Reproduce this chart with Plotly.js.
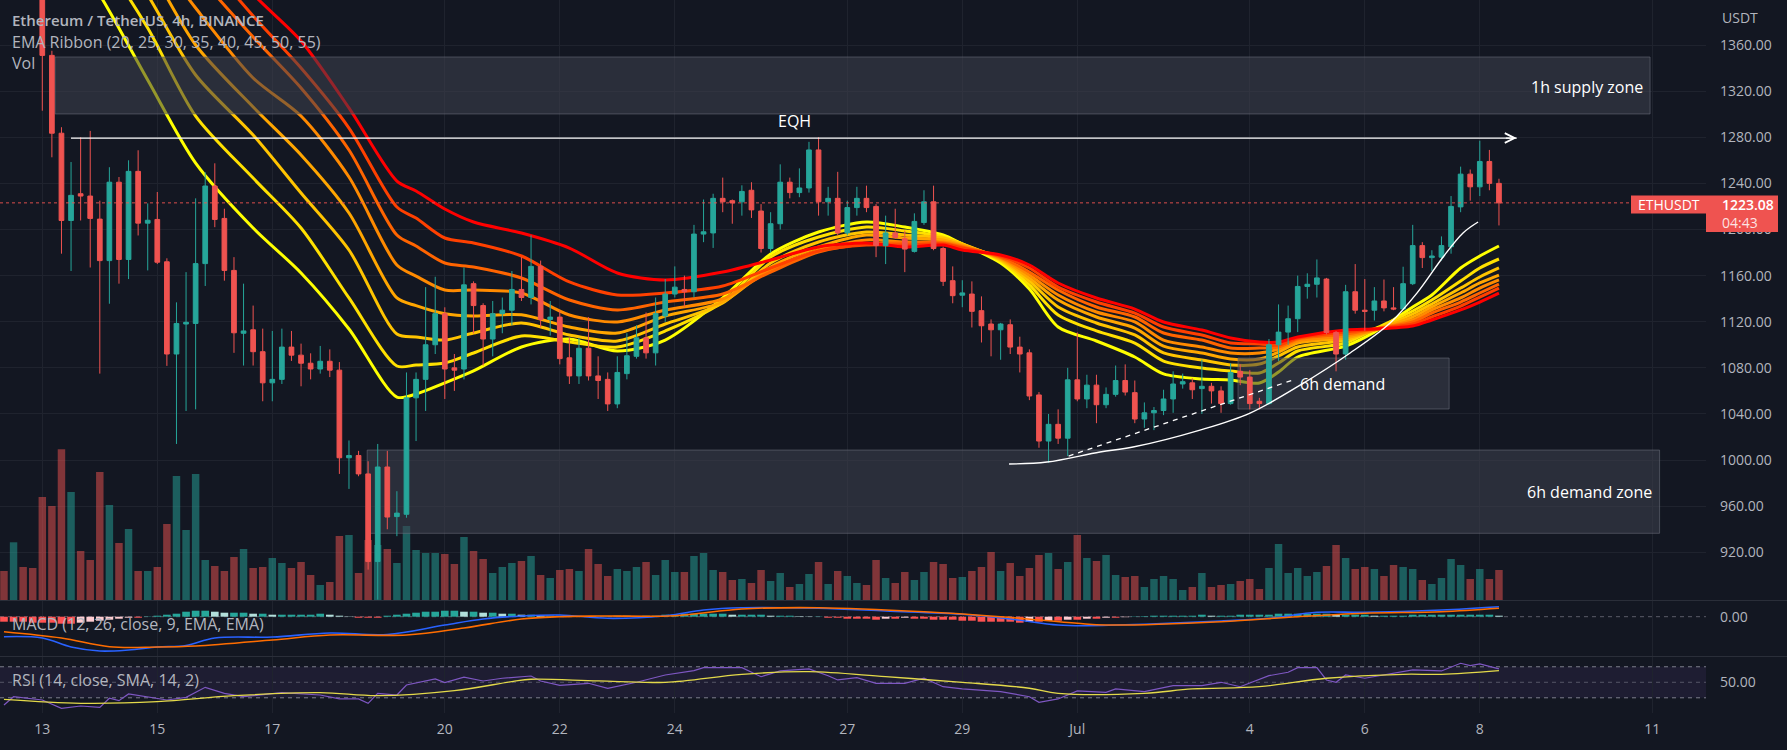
<!DOCTYPE html>
<html>
<head>
<meta charset="utf-8">
<title>ETHUSDT 4h</title>
<script src="https://cdn.plot.ly/plotly-3.0.1.min.js"></script>
<style>
html,body{margin:0;padding:0;background:#131722;overflow:hidden;}
#chart{width:1787px;height:750px;}
</style>
</head>
<body>
<div id="chart"></div>
<script>
// ================= DATA =================
// bar index 0 = 2022-06-13 00:00, 4h bars; first candle is index -4
const firstBarIndex = -4;

const opens = [1530,1512,1520,1478,
 1432,1351,1283.5,1207.8,1231,1229,1209,1173,1241,1174,
 1250.4,1205.5,1208.7,1172,1092,1118,1118.5,1170.4,1237.7,1209.6,
 1164.5,1110,1113,1094,1067,1070,1098,1091,1084,1079,
 1085.7,1078,1002,1004,988,912,994,951,953,1054,
 1070,1100,1127,1080,1079,1153,1134,1105,1127,1130,
 1148,1141,1168,1122,1124,1088.7,1073,1097,1073,1070,
 1048.7,1075,1090,1106,1093,1125,1144,1148,1146,1196,
 1197,1227,1225,1224,1234,1216,1183.5,1205,1241,1232,
 1236,1269,1224,1227,1197,1219,1227,1220,1186,1197,
 1192,1181,1206,1224,1183.5,1155.6,1143,1144,1129.6,1118,
 1113,1117.4,1098,1093,1056.5,1016.5,1031,1019,1069.6,1053,
 1065,1048,1057,1069,1058.5,1035.6,1041,1043,1053,1066,
 1067,1062,1064,1060,1049,1077,1072,1051,1049,1100,
 1111,1122.6,1150.6,1152.5,1157,1110.7,1092,1146,1130,1130,
 1138,1132,1131,1153,1186,1175.6,1176,1185,1219.6,1248,
 1237,1259,1240];
const highs = [1545,1528,1525,1490,
 1440,1355,1288.7,1258.5,1280,1285.5,1225,1254,1245.5,1260,
 1268.7,1222.6,1232.5,1175,1136.8,1163,1227,1249.6,1257.4,1218,
 1176,1153,1134,1114,1112,1114,1112,1101,1092.6,1099,
 1096,1085,1017,1008,999,1014,1008,973,1076,1076,
 1150,1159,1132.5,1092,1167,1155,1136,1138,1141,1164,
 1176,1195,1173,1138,1130,1106,1106,1124,1090,1076,
 1090,1110,1117,1128,1141,1157,1168,1160,1204,1226,
 1231,1245,1226,1238.3,1241,1222,1215,1256.5,1245,1253,
 1276,1280,1237,1250,1225,1237,1238,1222,1212,1218,
 1199,1214,1234,1238,1185,1168,1156,1155,1142,1122,
 1119,1122,1107,1096,1059,1040,1044,1080,1110.7,1074,
 1074,1063,1082,1083,1069,1050,1046,1061,1077,1075,
 1071,1087,1067,1064,1084,1083,1078,1054,1105,1135,
 1134,1160,1162,1174,1158,1112,1152,1170,1157,1150,
 1156.6,1150,1167.7,1204,1189,1182,1194,1229,1254.5,1252,
 1277,1269,1244];
const lows = [1505,1490,1470,1420,
 1303,1262.6,1179,1164,1207.8,1167,1075,1135.6,1153,1157,
 1194.8,1164.5,1170,1081.7,1014,1042.6,1044,1151,1202,1155.6,
 1093,1082,1082,1051,1051,1066,1086,1064,1070,1075,
 1072,988,975,986,905,879,940,934,950,1016.5,
 1042.6,1092,1053,1060,1070,1110,1082,1090,1110,1117,
 1138,1135,1115,1108,1083,1066,1066,1069,1053,1042.6,
 1045,1070,1088,1088,1082,1120,1141,1133,1141,1189,
 1184,1215,1205,1212,1210,1180,1180,1200,1227,1228,
 1232,1212,1212,1195,1195,1212,1215,1176,1170,1192,
 1163,1180,1204,1182,1151,1136,1132.6,1115,1102,1090,
 1087,1092,1076,1052,1010.7,997.7,1014,1003.5,1051,1045,
 1032,1045,1055,1056,1032,1028,1026,1039,1041,1062,
 1053,1040,1049,1041,1048,1065,1044,1044,1048,1086,
 1100,1111,1140,1141,1109,1077,1087,1127,1112,1121,
 1129,1130,1132,1151.8,1166.6,1164,1173,1179,1215,1225,
 1229,1234,1203.5];
const closes = [1512,1520,1478,1432,
 1351,1283.5,1207.8,1229.6,1229,1209.6,1173,1241,1174,1250.4,
 1205.5,1208,1171.6,1092,1118.5,1119.5,1170.4,1237.7,1208.7,1164.5,
 1110.4,1112,1094,1067,1070,1098,1091,1084,1079,1085.7,
 1078,1002,1004,988,912,994,950.6,954,1054,1070,
 1100,1127,1079,1078,1152,1134,1105,1127,1130,1148,
 1141,1168,1122,1124,1088,1073,1097,1073,1069,1048.7,
 1076,1090.5,1106,1093,1127,1144,1150,1146,1196,1198,
 1227,1224,1223,1233,1217,1183.5,1205,1241,1232,1236,
 1269,1224,1227,1197,1219,1227,1219,1186,1197,1193,
 1183,1207,1224,1183.5,1155,1142.6,1145,1129,1116.5,1113,
 1118,1098,1092,1055.6,1016.5,1031,1019,1069.6,1053,1065,
 1048,1057,1069,1059,1035.6,1041,1043,1053,1066,1068,
 1061,1064,1060,1049,1076,1072,1049,1049,1100,1111,
 1122.6,1150.6,1152.5,1158,1110.7,1092,1146,1130,1129,1138,
 1132,1131,1153,1186,1175.6,1177,1186,1220,1248,1237,
 1259,1240,1223.08];
const volumes = [29,57.7,33,32,
 103,94,150.7,108,49,40,128,95,57,71,
 29,29,33,76,124,70,126,40,34,29,
 43,51,32,33,42,37,32,38,25,15,
 18,64,65,27,60,55,51,37,74,50,
 47,47,46,36,63,49,41,27,33,37,
 39,44,25,22,30,31,29,51,36,24,
 31,29,33,38,25,40,28,28,44,47,
 30,28,20,21,17,30,19,27,13,16,
 26,38,16,29,24,17,15,40,22,17,
 28,20,28,38,36,22,23,29,33,48,
 29,37,24,32,45,47,31,38,65,42,
 39,45,25,23,24,13,21,24,21,10,
 13,27,13,15,16,19,21,11,32,56,
 27,32,24,28,34,55,42,31,33,31,
 24,35,33,31,20,16,22,41,35,21,
 31,21,30];

// EMA ribbon, read at these bar indexes
const emaIdx = [-4,0,6,11,16,22,27,32,37,39,42,45,50,55,60,65,71,76,81,86,90,94,96,100,103,106,110,114,117,121,124,127,129,131,136,139,143,145,148,150,152];
const ema20 = [1520.4,1477.1,1403.4,1329.6,1257.6,1201.3,1162.3,1113.7,1054.7,1057.3,1066.9,1077.3,1098.1,1105.0,1094.6,1104.1,1140.6,1178.7,1197.8,1206.5,1202.1,1195.2,1187.4,1170.9,1148.4,1115.4,1103.3,1089.4,1074.7,1070.3,1069.5,1066.9,1076.4,1089.4,1098.9,1111.0,1132.8,1143.2,1166.6,1177.0,1185.7];
const ema25 = [1537.8,1503.1,1438.1,1374.7,1298.4,1244.6,1201.3,1140.6,1081.6,1082.5,1084.2,1092.9,1107.6,1102.4,1098.1,1112.0,1137.1,1176.1,1193.5,1202.1,1198.7,1193.5,1187.4,1172.7,1151.9,1125.8,1112.0,1101.5,1085.9,1079.9,1077.3,1075.5,1084.2,1094.6,1101.5,1113.7,1129.3,1138.8,1155.3,1166.6,1174.4];
const ema30 = [1563.8,1529.1,1468.4,1403.4,1334.0,1281.9,1231.6,1182.2,1109.4,1106.8,1104.1,1110.2,1118.9,1108.5,1103.3,1118.0,1136.2,1170.9,1189.1,1197.8,1195.2,1192.6,1187.4,1173.5,1155.3,1132.8,1118.9,1108.5,1092.9,1086.8,1082.5,1083.3,1090.3,1098.1,1104.1,1112.8,1126.7,1135.4,1149.2,1158.8,1166.6];
const ema35 = [1581.2,1555.1,1494.4,1430.3,1360.0,1306.2,1264.6,1214.3,1140.6,1134.0,1127.0,1125.0,1126.0,1115.4,1110.2,1124.9,1137.1,1167.5,1184.8,1195.2,1192.6,1190.9,1186.5,1174.4,1157.9,1138.8,1124.1,1114.5,1098.9,1092.9,1087.7,1087.7,1093.7,1101.5,1105.9,1112.8,1124.1,1132.8,1144.9,1153.6,1160.5];
const ema40 = [1598.5,1572.5,1511.8,1448.5,1392.1,1331.4,1298.4,1245.5,1169.2,1159.6,1147.5,1147.5,1144.9,1125.8,1119.8,1130.2,1139.7,1164.9,1182.2,1190.9,1189.1,1189.1,1185.7,1175.3,1160.5,1143.2,1128.4,1119.8,1104.1,1098.1,1092.9,1092.9,1096.3,1103.3,1107.6,1112.8,1121.5,1130.2,1140.6,1149.2,1156.2];
const ema45 = [1615.9,1589.8,1537.8,1478.8,1423.3,1366.9,1322.7,1268.9,1195.2,1185.7,1170.9,1167.5,1157.9,1138.8,1130.2,1137.1,1144.0,1163.1,1180.5,1187.4,1188.3,1188.3,1184.8,1176.1,1163.1,1147.5,1132.8,1124.1,1110.2,1104.1,1097.2,1097.2,1098.1,1105.0,1109.4,1113.7,1119.8,1127.5,1137.1,1144.9,1152.7];
const ema50 = [1633.2,1607.2,1555.1,1496.2,1444.1,1385.2,1340.0,1288.0,1219.5,1209.9,1192.6,1188.3,1177.0,1154.5,1143.2,1144.9,1151.0,1166.6,1181.3,1186.5,1186.5,1187.4,1183.9,1177.0,1166.6,1150.1,1137.1,1127.5,1115.4,1108.5,1101.5,1100.7,1099.8,1105.9,1111.1,1113.7,1118.0,1124.1,1133.6,1141.4,1149.2];
const ema55 = [1650.5,1624.5,1572.5,1513.5,1464.1,1404.2,1363.5,1305.4,1242.0,1233.4,1217.8,1206.5,1196.9,1183.9,1162.3,1156.2,1163.1,1173.5,1184.8,1188.3,1184.8,1186.5,1182.2,1177.9,1169.2,1153.6,1140.6,1131.0,1119.8,1112.8,1105.9,1102.4,1102.4,1106.8,1112.8,1113.7,1116.3,1121.5,1130.2,1137.1,1144.8];

// MACD (12, 26, close, 9)
const macdIdx = [-4,0,3,6,9,12,15,18,24,30,36,42,46,50,54,59,65,69,73,81,88,96,101,106,109,115,123,128,133,138,146,152];
const macdLine = [-20,-21.3,-30.3,-34.3,-33.3,-30.3,-28.8,-21.3,-20.3,-16.3,-17.8,-8.3,-2.3,0.7,1.7,-1.6,1,6.7,9,8.4,5.7,2.4,-2.3,-8.3,-9,-7.6,-4.3,-1.6,4.4,4.4,6.7,10];
const signalIdx = [-4,2,7,12,16,24,30,38,44,50,54,58,66,73,81,92,100,108,111,123,131,138,146,152];
const signalLine = [-15,-21.3,-30,-30.3,-29.3,-23.3,-18.3,-18.3,-11.3,-2.3,0,0.7,1,7.7,9,5,0,-6.6,-8.3,-5,0,3.4,5,8.4];
const macdHist = [-5,-5,-5,-6,
 -6,-6,-7,-7,-6,-5,-4,-3,-2,-1,
 -1,0.3,1,2,3,5,6,6,5,4,
 4,4,3,3,2,2,2,2,2,3,
 2,1,0.3,-1,-1,-1,1,2,3,4,
 5,5,6,6,5,5,4,4,3,3,
 2,2,1,1,1,1,0.5,0.3,0.3,0.5,
 1,1,0.5,1,1,2,2,3,3,3,
 3,3,2,2,2,2,1,1,1,0.5,
 0.3,0.3,-1,-1,-2,-2,-2,-3,-2,-2,
 -1,-2,-2,-3,-3,-3,-4,-4,-5,-5,
 -5,-5,-6,-5,-5,-4,-4,-3,-3,-2,
 -2,-1,-1,-0.5,0.3,0.5,1,1,1,1,
 1,2,1,1,1,2,2,2,2,3,
 3,3,3,3,3,2,2,2,2,1,
 1,1,1,2,2,2,2,2,2,2,
 2,2,1];

// RSI (14) and its SMA (14)
const rsiIdx = [-4,-3,0,2,4,6,7,8,9,11,13,15,17,19,21,25,29,31,33,34,35,37,38,41,42,44,46,48,51,52,54,57,59,62,65,68,69,73,75,77,80,82,83,85,87,90,92,94,96,100,103,104,106,108,111,112,115,118,121,123,125,128,130,131,133,134,135,136,138,143,146,148,149,150,152];
const rsiVals = [20.7,31.4,27.2,16.5,19.4,17.7,29.4,26.3,34.9,31.4,27.2,30.6,43.5,35.8,31.4,36.6,33.6,28.5,28.5,22.9,35.8,33.6,46.5,54.3,49.5,56.5,51.7,55.2,58.1,51.7,46,48.7,42.3,50,59.4,65,68.8,68.8,57.2,64.6,67.2,58.5,53,55.9,48.7,48.7,55.2,44.3,41.4,37.9,31.4,24.2,28.5,38.8,37.1,41.4,37.9,45.6,45.6,50,44.3,58.5,62.9,68.8,68.8,53,50,59.4,55.2,65.9,64.6,74.5,71.4,73.6,67.2];
const rsiMaIdx = [-4,4,12,20,29,35,43,49,51,58,65,73,80,88,96,103,106,115,120,127,134,142,146,152];
const rsiMaVals = [28,22.9,25,32.7,36.6,32.7,39.2,50.8,53.9,51.7,50,60.3,63.7,57.2,50,42.3,35.8,35.8,41.4,44.3,55.2,60.3,60.3,65];

// Drawings (bar index, price)
const eqhIdx = [2.99, 153.85];
const eqhPrice = 1279.3;
const curveIdx = [100.88,104.84,110.37,113.82,120.8,126.03,131.25,136.47,140.64,143.46,146.17,148.25,149.82];
const curvePrice = [996.6,998.3,1007,1011.3,1026,1040.8,1065,1092.9,1118.9,1145,1176.1,1197,1206.5];
const dashIdx = [107.1, 130.5];
const dashPrice = [1003.5, 1069.5];
const supplyZone = {idx:[1.33,167.77], price:[1300.2,1349.6], label:'1h supply zone', labelIdx:167.2, labelPrice:1324};
const demandZoneBig = {idx:[33.9,168.76], price:[936.5,1008.7], label:'6h demand zone', labelIdx:168.2, labelPrice:972.3};
const demandZoneSmall = {idx:[124.77,146.8], price:[1044.3,1088.5], label:'6h demand', labelIdx:135.7, labelPrice:1066.4};
const eqhLabel = {text:'EQH', idx:78.44, price:1294.1};

const lastPrice = 1223.08;
const countdown = '04:43';

// Axis ticks
const dateTickDates = ['2022-06-13','2022-06-15','2022-06-17','2022-06-20','2022-06-22','2022-06-24','2022-06-27','2022-06-29','2022-07-01','2022-07-04','2022-07-06','2022-07-08','2022-07-11'];
const dateTickText = ['13','15','17','20','22','24','27','29','Jul','4','6','8','11'];
const priceTicks = [920,960,1000,1040,1080,1120,1160,1200,1240,1280,1320,1360];

// ================= HELPERS =================
const ANCHOR = Date.UTC(2022, 5, 13, 0, 0);
const BAR = 4 * 3600 * 1000;
const DAY = 24 * 3600 * 1000;
const ds = ms => new Date(ms).toISOString().replace('T', ' ').slice(0, 19);
const tAt = n => ds(ANCHOR + n * BAR);

const candleX = opens.map((_, i) => tAt(firstBarIndex + i));
const UP = '#26a69a', DOWN = '#ef5350';
const GRID = '#1f232e';
const TXT = '#b2b5be';

// plot area geometry (px): width 1706, height 713
const PW = 1706, PH = 713;
const py = px => (PH - px) / PH;  // pixel y -> paper y
const pxX = px => px / PW;        // pixel x -> paper x

const xLeft = ds(ANCHOR - 0.7357 * DAY);
const xRight = ds(ANCHOR + 28.934 * DAY);
const priceMax = 1399.03, priceMin = 878.65;

// ================= TRACES =================
const traces = [];

// Volume (base layer)
traces.push({
  type: 'bar', x: candleX, y: volumes, xaxis: 'x', yaxis: 'y',
  width: BAR * 0.78,
  marker: {color: closes.map((c, i) => c >= opens[i] ? 'rgba(38,166,154,0.5)' : 'rgba(239,83,80,0.5)'), line: {width: 0}},
  hoverinfo: 'skip'
});

// EMA ribbon
const ribbon = [
  [ema20, '#ffff00'], [ema25, '#ffe000'], [ema30, '#ffc400'], [ema35, '#ffa600'],
  [ema40, '#ff8a00'], [ema45, '#ff6400'], [ema50, '#ff4000'], [ema55, '#ff0000']
];
ribbon.forEach(([vals, col]) => {
  traces.push({
    type: 'scatter', mode: 'lines', x: emaIdx.map(tAt), y: vals, xaxis: 'x', yaxis: 'y2',
    line: {color: col, width: 3, shape: 'spline', smoothing: 0.8}, hoverinfo: 'skip'
  });
});

// Zones (above ribbon, below candles)
[supplyZone, demandZoneBig, demandZoneSmall].forEach(z => {
  const [i0, i1] = z.idx, [p0, p1] = z.price;
  traces.push({
    type: 'scatter', mode: 'lines', xaxis: 'x', yaxis: 'y2',
    x: [tAt(i0), tAt(i1), tAt(i1), tAt(i0), tAt(i0)],
    y: [p0, p0, p1, p1, p0],
    fill: 'toself', fillcolor: 'rgba(62,65,78,0.55)',
    line: {color: 'rgba(110,113,125,0.55)', width: 1}, hoverinfo: 'skip'
  });
});

// Candles
traces.push({
  type: 'candlestick', x: candleX, open: opens, high: highs, low: lows, close: closes,
  xaxis: 'x', yaxis: 'y3',
  increasing: {line: {color: UP, width: 1}, fillcolor: UP},
  decreasing: {line: {color: DOWN, width: 1}, fillcolor: DOWN},
  whiskerwidth: 0, hoverinfo: 'skip'
});

// Drawings
traces.push({
  type: 'scatter', mode: 'lines', xaxis: 'x', yaxis: 'y3',
  x: eqhIdx.map(tAt), y: [eqhPrice, eqhPrice],
  line: {color: '#ffffff', width: 1.2}, hoverinfo: 'skip'
});
traces.push({
  type: 'scatter', mode: 'lines', xaxis: 'x', yaxis: 'y3',
  x: curveIdx.map(tAt), y: curvePrice,
  line: {color: '#ffffff', width: 1.4, shape: 'spline', smoothing: 1}, hoverinfo: 'skip'
});
traces.push({
  type: 'scatter', mode: 'lines', xaxis: 'x', yaxis: 'y3',
  x: dashIdx.map(tAt), y: dashPrice,
  line: {color: '#ffffff', width: 1.3, dash: '5px,5px'}, hoverinfo: 'skip'
});

// MACD
const histColors = macdHist.map((v, i) => {
  const prev = i > 0 ? macdHist[i - 1] : v;
  if (v >= 0) return v >= prev ? '#26a69a' : '#b2dfdb';
  return v <= prev ? '#ff5252' : '#ffcdd2';
});
traces.push({
  type: 'bar', x: candleX, y: macdHist, xaxis: 'x', yaxis: 'y4',
  width: BAR * 0.8, marker: {color: histColors, line: {width: 0}}, hoverinfo: 'skip'
});
traces.push({
  type: 'scatter', mode: 'lines', x: macdIdx.map(tAt), y: macdLine, xaxis: 'x', yaxis: 'y4',
  line: {color: '#2962ff', width: 1.6, shape: 'spline'}, hoverinfo: 'skip'
});
traces.push({
  type: 'scatter', mode: 'lines', x: signalIdx.map(tAt), y: signalLine, xaxis: 'x', yaxis: 'y4',
  line: {color: '#ff6d00', width: 1.6, shape: 'spline'}, hoverinfo: 'skip'
});

// RSI
traces.push({
  type: 'scatter', mode: 'lines', x: rsiIdx.map(tAt), y: rsiVals, xaxis: 'x', yaxis: 'y5',
  line: {color: '#7e57c2', width: 1.2}, hoverinfo: 'skip'
});
traces.push({
  type: 'scatter', mode: 'lines', x: rsiMaIdx.map(tAt), y: rsiMaVals, xaxis: 'x', yaxis: 'y5',
  line: {color: '#e3d94a', width: 1.3, shape: 'spline'}, hoverinfo: 'skip'
});

// ================= LAYOUT =================
const priceDomainBottom = (PH - 600) / PH;
const macdDomain = [(PH - 656) / PH, (PH - 601) / PH];
const rsiDomain = [0, (PH - 657) / PH];

const shapes = [
  // pane separators
  {type: 'line', xref: 'paper', yref: 'paper', x0: 0, x1: 1787 / PW, y0: py(600.5), y1: py(600.5), line: {color: '#2a2e39', width: 1}},
  {type: 'line', xref: 'paper', yref: 'paper', x0: 0, x1: 1787 / PW, y0: py(656.5), y1: py(656.5), line: {color: '#2a2e39', width: 1}},
  // MACD zero line
  {type: 'line', xref: 'paper', yref: 'y4', x0: 0, x1: 1, y0: 0, y1: 0, line: {color: 'rgba(120,123,134,0.7)', width: 1, dash: '4px,4px'}, layer: 'below'},
  // RSI band and levels
  {type: 'rect', xref: 'paper', yref: 'y5', x0: 0, x1: 1, y0: 30, y1: 70, fillcolor: 'rgba(126,87,194,0.1)', line: {width: 0}, layer: 'below'},
  {type: 'line', xref: 'paper', yref: 'y5', x0: 0, x1: 1, y0: 70, y1: 70, line: {color: 'rgba(150,153,164,0.8)', width: 1, dash: '4px,4px'}, layer: 'below'},
  {type: 'line', xref: 'paper', yref: 'y5', x0: 0, x1: 1, y0: 50, y1: 50, line: {color: 'rgba(150,153,164,0.45)', width: 1, dash: '4px,4px'}, layer: 'below'},
  {type: 'line', xref: 'paper', yref: 'y5', x0: 0, x1: 1, y0: 30, y1: 30, line: {color: 'rgba(150,153,164,0.8)', width: 1, dash: '4px,4px'}, layer: 'below'},
  // last price line
  {type: 'line', xref: 'paper', yref: 'y2', x0: 0, x1: 1, y0: lastPrice, y1: lastPrice, line: {color: 'rgba(239,83,80,0.9)', width: 1, dash: 'dot'}, layer: 'above'},
  // price scale labels
  {type: 'rect', xref: 'paper', yref: 'paper', x0: pxX(1631), x1: pxX(1706), y0: py(213.5), y1: py(195.5), fillcolor: '#ef5350', line: {width: 0}, layer: 'above'},
  {type: 'rect', xref: 'paper', yref: 'paper', x0: pxX(1706), x1: pxX(1778), y0: py(232), y1: py(195.5), fillcolor: '#ef5350', line: {width: 0}, layer: 'above'}
];

const legendFont = {family: 'Open Sans, sans-serif', size: 16, color: TXT};
const drawFont = {family: 'Open Sans, sans-serif', size: 16, color: '#ffffff'};
const annotations = [
  {xref: 'paper', yref: 'paper', x: pxX(10), y: py(20), xanchor: 'left', yanchor: 'middle', showarrow: false, text: 'Ethereum / TetherUS, 4h, BINANCE', font: {family: 'Open Sans, sans-serif', size: 15, color: TXT, weight: 600}},
  {xref: 'paper', yref: 'paper', x: pxX(10), y: py(42), xanchor: 'left', yanchor: 'middle', showarrow: false, text: 'EMA Ribbon (20, 25, 30, 35, 40, 45, 50, 55)', font: legendFont},
  {xref: 'paper', yref: 'paper', x: pxX(10), y: py(63), xanchor: 'left', yanchor: 'middle', showarrow: false, text: 'Vol', font: legendFont},
  {xref: 'paper', yref: 'paper', x: pxX(10), y: py(624), xanchor: 'left', yanchor: 'middle', showarrow: false, text: 'MACD (12, 26, close, 9, EMA, EMA)', font: legendFont},
  {xref: 'paper', yref: 'paper', x: pxX(10), y: py(680), xanchor: 'left', yanchor: 'middle', showarrow: false, text: 'RSI (14, close, SMA, 14, 2)', font: legendFont},
  {xref: 'paper', yref: 'paper', x: pxX(1720), y: py(17), xanchor: 'left', yanchor: 'middle', showarrow: false, text: 'USDT', font: {family: 'Open Sans, sans-serif', size: 14, color: TXT}},
  {xref: 'paper', yref: 'paper', x: pxX(1668.5), y: py(204.5), xanchor: 'center', yanchor: 'middle', showarrow: false, text: 'ETHUSDT', font: {family: 'Open Sans, sans-serif', size: 14, color: '#ffffff'}},
  {xref: 'paper', yref: 'paper', x: pxX(1720), y: py(204.5), xanchor: 'left', yanchor: 'middle', showarrow: false, text: lastPrice.toFixed(2), font: {family: 'Open Sans, sans-serif', size: 14, color: '#ffffff', weight: 600}},
  {xref: 'paper', yref: 'paper', x: pxX(1720), y: py(222), xanchor: 'left', yanchor: 'middle', showarrow: false, text: countdown, font: {family: 'Open Sans, sans-serif', size: 14, color: 'rgba(255,255,255,0.85)'}},
  {xref: 'x', yref: 'y3', x: tAt(eqhLabel.idx), y: eqhLabel.price, xanchor: 'center', yanchor: 'middle', showarrow: false, text: eqhLabel.text, font: drawFont},
  {xref: 'x', yref: 'y3', x: tAt(supplyZone.labelIdx), y: supplyZone.labelPrice, xanchor: 'right', yanchor: 'middle', showarrow: false, text: supplyZone.label, font: drawFont},
  {xref: 'x', yref: 'y3', x: tAt(demandZoneBig.labelIdx), y: demandZoneBig.labelPrice, xanchor: 'right', yanchor: 'middle', showarrow: false, text: demandZoneBig.label, font: drawFont},
  {xref: 'x', yref: 'y3', x: tAt(demandZoneSmall.labelIdx), y: demandZoneSmall.labelPrice, xanchor: 'center', yanchor: 'middle', showarrow: false, text: demandZoneSmall.label, font: drawFont},
  // arrow head at end of EQH line
  {xref: 'x', yref: 'y3', axref: 'x', ayref: 'y3', x: tAt(eqhIdx[1]), y: eqhPrice, ax: tAt(eqhIdx[1] - 1.5), ay: eqhPrice,
   showarrow: true, arrowhead: 5, arrowsize: 1.6, arrowwidth: 1.2, arrowcolor: '#ffffff', text: ' ', standoff: 0}
];

const layout = {
  width: 1787, height: 750,
  paper_bgcolor: '#131722', plot_bgcolor: '#131722',
  margin: {l: 0, r: 1787 - PW, t: 0, b: 750 - PH, pad: 0},
  showlegend: false, hovermode: false, dragmode: false,
  font: {family: 'Open Sans, sans-serif', color: TXT, size: 14},
  xaxis: {
    type: 'date', range: [xLeft, xRight], anchor: 'y5',
    tickvals: dateTickDates, ticktext: dateTickText,
    showgrid: true, gridcolor: GRID, gridwidth: 1, zeroline: false, showline: false,
    ticks: '', ticklabelstandoff: 6, tickfont: {size: 14, color: TXT},
    rangeslider: {visible: false}, fixedrange: true
  },
  yaxis: {domain: [priceDomainBottom, 1], range: [0, 600], visible: false, fixedrange: true},
  yaxis2: {
    overlaying: 'y', side: 'right', range: [priceMin, priceMax],
    tickvals: priceTicks, ticktext: priceTicks.map(v => v.toFixed(2)),
    showgrid: true, gridcolor: GRID, zeroline: false, showline: false, ticks: '',
    ticklabelstandoff: 13, tickfont: {size: 14, color: TXT}, fixedrange: true
  },
  yaxis3: {overlaying: 'y', range: [priceMin, priceMax], visible: false, fixedrange: true},
  yaxis4: {
    domain: macdDomain, range: [-39.3, 15.7], anchor: 'x', side: 'right',
    tickvals: [0], ticktext: ['0.00'], showgrid: false, zeroline: false, ticks: '',
    ticklabelstandoff: 13, tickfont: {size: 14, color: TXT}, fixedrange: true
  },
  yaxis5: {
    domain: rsiDomain, range: [10.4, 82.6], anchor: 'x', side: 'right',
    tickvals: [50], ticktext: ['50.00'], showgrid: false, zeroline: false, ticks: '',
    ticklabelstandoff: 13, tickfont: {size: 14, color: TXT}, fixedrange: true
  },
  shapes: shapes,
  annotations: annotations
};

Plotly.newPlot('chart', traces, layout, {displayModeBar: false, staticPlot: true});
</script>
</body>
</html>
